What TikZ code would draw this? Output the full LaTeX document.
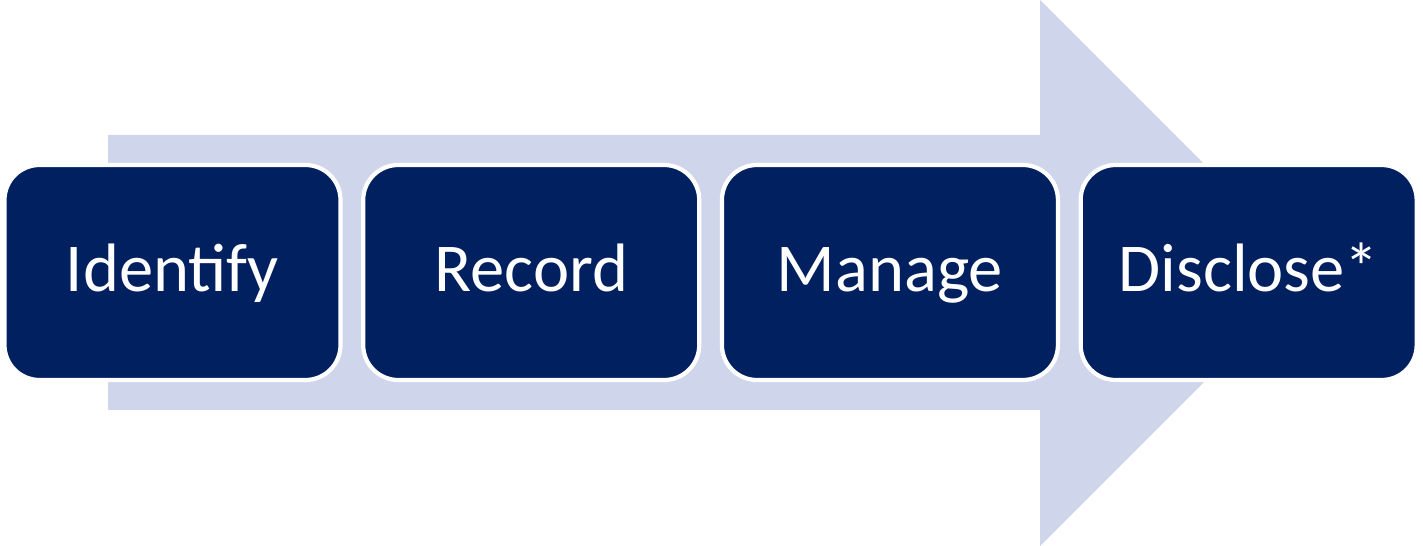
\documentclass[tikz,border=0pt]{standalone}
\usepackage{fontspec}
\setmainfont{Carlito}
\usetikzlibrary{positioning}
\definecolor{stepcolor}{RGB}{0,32,96}
\definecolor{flowcolor}{RGB}{207,213,234}
\tikzset{
stepbox/.style={
  rectangle,
  rounded corners=0.7cm,
  draw=white,
  line width=2.4pt,
  fill=stepcolor,
  minimum width=6.72cm,
  minimum height=4.3cm,
  text height=1.1cm,
  text depth=0.32cm,
  text=white,
  font=\fontsize{39}{47}\selectfont
}
}
\begin{document}
\begin{tikzpicture}[node distance=0.37cm]
\useasboundingbox (0,0) rectangle (28.46,-10.92);

% big arrow behind
\fill[flowcolor] (2.16,-2.7) -- (20.8,-2.7) -- (20.8,0) -- (26.26,-5.46)
  -- (20.8,-10.92) -- (20.8,-8.2) -- (2.16,-8.2) -- cycle;

% steps
\node[stepbox] (identify) at (3.45,-5.45) {Identify};
\node[stepbox, right=of identify] (record) {Record};
\node[stepbox, right=of record] (manage) {Manage};
\node[stepbox, right=of manage] (disclose) {Disclose*};

\end{tikzpicture}
\end{document}
